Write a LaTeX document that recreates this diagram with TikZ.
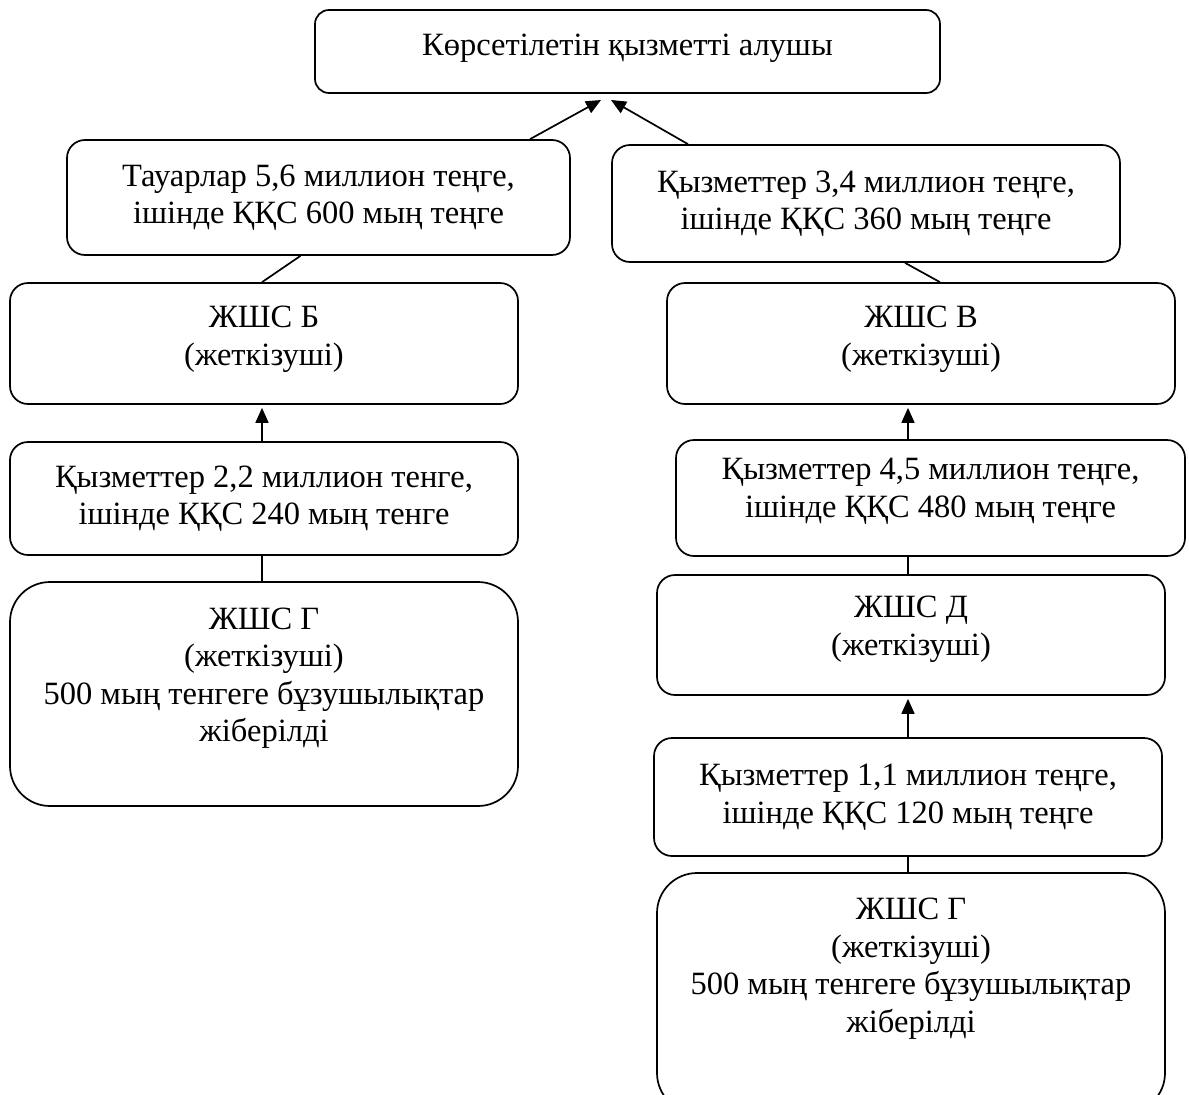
\documentclass[tikz,border=0pt]{standalone}
\usepackage{fontspec}
\setmainfont{Liberation Serif}
\usetikzlibrary{arrows.meta}
\begin{document}
\begin{tikzpicture}[x=1pt,y=-1pt,
  box/.style={draw, line width=1.7pt, rounded corners=18pt, inner sep=0pt, align=center, font=\fontsize{32.5}{37.5}\selectfont},
  bigbox/.style={box, rounded corners=40pt},
  txt/.style={align=center, inner sep=0pt, font=\fontsize{32.5}{37.5}\selectfont},
  conn/.style={line width=1.7pt},
  arr/.style={conn, -{Triangle[length=15pt,width=13pt]}}]
\useasboundingbox (0,0) rectangle (1189,1095);
\clip (0,0) rectangle (1189,1095);
% boxes
\node[box, rounded corners=14pt, minimum width=625pt, minimum height=83pt] (top) at (627.5,51.5) {};
\node[txt] (toptxt) at (627.5,48) {Көрсетілетін қызметті алушы};
\node[box, minimum width=503pt, minimum height=115pt] (goods) at (318.5,197.5) {Тауарлар 5,6 миллион теңге,\\ ішінде ҚҚС 600 мың теңге};
\node[box, minimum width=508pt, minimum height=117pt] (serv) at (866,203.5) {Қызметтер 3,4 миллион теңге,\\ ішінде ҚҚС 360 мың теңге};
\node[box, minimum width=508pt, minimum height=121pt] (b) at (264,343.5) {};
\node[txt] (btxt) at (264,339) {ЖШС Б\\ (жеткізуші)};
\node[box, minimum width=508pt, minimum height=121pt] (v) at (921,343.5) {};
\node[txt] (vtxt) at (921,339) {ЖШС В\\ (жеткізуші)};
\node[box, minimum width=508pt, minimum height=113pt] (l22) at (264,498.5) {Қызметтер 2,2 миллион тенге,\\ ішінде ҚҚС 240 мың тенге};
\node[box, minimum width=509pt, minimum height=116pt] (r45) at (930.5,498) {};
\node[txt] (r45txt) at (930.5,491.5) {Қызметтер 4,5 миллион теңге,\\ ішінде ҚҚС 480 мың теңге};
\node[bigbox, minimum width=508pt, minimum height=224pt] (lg) at (264,694) {};
\node[txt] (lgtxt) at (264,678) {ЖШС Г\\ (жеткізуші)\\ 500 мың тенгеге бұзушылықтар\\ жіберілді};
\node[box, minimum width=508pt, minimum height=120pt] (d) at (911,635) {};
\node[txt] (dtxt) at (911,629) {ЖШС Д\\ (жеткізуші)};
\node[box, minimum width=508pt, minimum height=118pt] (r11) at (908,797) {Қызметтер 1,1 миллион теңге,\\ ішінде ҚҚС 120 мың теңге};
\node[bigbox, minimum width=508pt, minimum height=240pt] (rg) at (911,993) {};
\node[txt] (rgtxt) at (911,968.5) {ЖШС Г\\ (жеткізуші)\\ 500 мың тенгеге бұзушылықтар\\ жіберілді};
% connectors
\coordinate (tipL) at (601,100);
\coordinate (tipR) at (611,100);
\coordinate (xl) at (262,0);
\coordinate (xr) at (908,0);
\draw[arr] ([xshift=211.5pt]goods.north) -- (tipL);
\draw[arr] ([xshift=-178pt]serv.north) -- (tipR);
\draw[conn] ([xshift=-18pt]goods.south) -- ([xshift=-2pt]b.north);
\draw[conn] ([xshift=39pt]serv.south) -- ([xshift=19pt]v.north);
\draw[arr, shorten >=3pt] (l22.north -| xl) -- (b.south -| xl);
\draw[conn] (l22.south -| xl) -- (lg.north -| xl);
\draw[arr, shorten >=3pt] (r45.north -| xr) -- (v.south -| xr);
\draw[conn] (r45.south -| xr) -- (d.north -| xr);
\draw[arr, shorten >=3pt] (r11.north -| xr) -- (d.south -| xr);
\draw[conn] (r11.south -| xr) -- (rg.north -| xr);
\end{tikzpicture}
\end{document}
